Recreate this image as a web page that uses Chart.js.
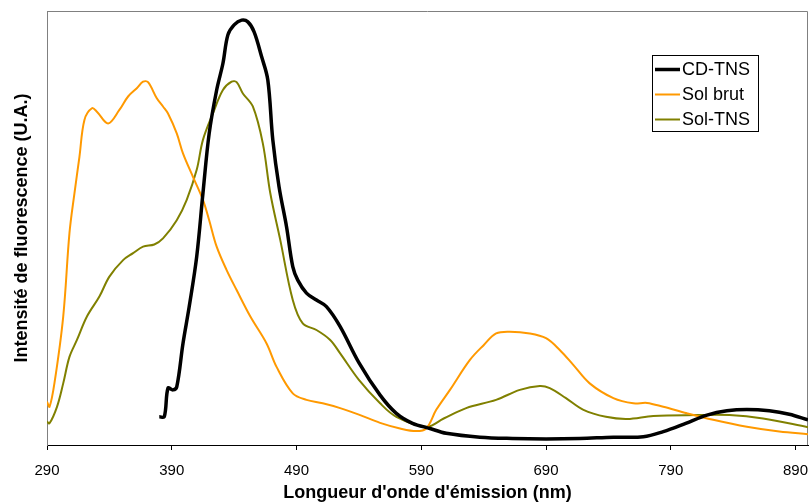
<!DOCTYPE html>
<html>
<head>
<meta charset="utf-8">
<script src="https://cdn.jsdelivr.net/npm/chart.js@4.4.1/dist/chart.umd.min.js"></script>
<style>
  html, body { margin: 0; padding: 0; background: #fff; }
  #wrap { width: 812px; height: 504px; }
</style>
</head>
<body>
<div id="wrap"><canvas id="chart" width="812" height="504"></canvas></div>
<script>
// tick labels on the wavelength axis (nm)
const xTicks = [290, 390, 490, 590, 690, 790, 890];

// CD-TNS
const cdX = [380, 384, 387, 391, 394, 399, 404, 410, 415, 420, 426, 431, 435, 440, 446, 451, 456, 462, 467, 471, 476, 482, 487, 491, 498, 506, 514, 525, 540, 557, 570, 583, 597, 610, 637, 663, 690, 717, 744, 768, 784, 802, 819, 835, 851, 869, 885, 900];
const cdY = [6.5, 6.5, 13.1, 12.7, 13.4, 23.4, 31.9, 43.4, 58, 71.8, 81.8, 87.9, 94.5, 96.8, 97.9, 97.5, 95.2, 89.5, 84.1, 70.3, 59.5, 50.3, 41.1, 38, 35, 33.4, 31.9, 27.3, 19, 11.5, 7.3, 5, 3.8, 2.7, 1.8, 1.5, 1.4, 1.5, 1.8, 1.9, 3.1, 5, 6.9, 7.9, 8.2, 7.9, 7.1, 5.8];

// Sol brut
const brutX = [290, 292, 296, 303, 308, 312, 316, 320, 326, 330, 339, 348, 355, 362, 367, 371, 378, 383, 387, 394, 399, 407, 415, 420, 426, 434, 442, 453, 466, 474, 487, 498, 511, 525, 540, 557, 573, 586, 594, 602, 613, 629, 640, 650, 661, 677, 690, 701, 712, 725, 744, 760, 771, 784, 803, 824, 851, 877, 900];
const brutY = [10, 8.8, 14.3, 29.6, 48.8, 58, 66.4, 74.9, 77.6, 76.8, 74.1, 77.2, 80.3, 82.2, 83.7, 83.6, 79.9, 78, 76.4, 71.8, 67.2, 61.8, 56.5, 51.8, 45.7, 40.3, 35.7, 29.6, 23.4, 18, 11.9, 10.4, 9.6, 8.5, 7, 5.1, 3.8, 3.2, 3.8, 8.1, 12.7, 19.6, 23, 25.7, 26.1, 25.7, 24.6, 21.9, 18.4, 14.2, 10.8, 9.6, 9.7, 8.8, 7.3, 5.8, 4.2, 3.1, 2.5];

// Sol-TNS
const tnsX = [290, 292, 298, 303, 308, 314, 322, 332, 340, 351, 359, 367, 376, 383, 394, 402, 410, 415, 423, 431, 438, 442, 447, 455, 463, 469, 477, 487, 495, 506, 517, 525, 540, 557, 570, 594, 608, 626, 650, 669, 685, 693, 706, 720, 738, 755, 776, 811, 837, 864, 900];
const tnsY = [5.4, 5, 8.8, 14.2, 20.3, 24.2, 29.6, 34.2, 38.8, 42.6, 44.2, 45.7, 46.2, 47.6, 51.8, 56.5, 63.4, 70.3, 76.4, 81.8, 83.7, 83.6, 81, 78, 69.5, 58, 47.2, 33.4, 28, 26.5, 24.2, 21.1, 15, 9.6, 6.5, 4.2, 6.1, 8.5, 10.4, 12.7, 13.6, 13.1, 10.8, 8.1, 6.5, 6, 6.7, 6.9, 6.9, 6.1, 4.1];

const labels = ['CD-TNS', 'Sol brut', 'Sol-TNS'];
const colors = ['#000000', '#FF9900', '#808000'];
const widths = [3.5, 2, 2];

const FONT = '"Liberation Sans", Arial, sans-serif';

const toPts = (xs, ys) => xs.map((x, i) => ({ x: x, y: ys[i] }));

const frame = {
  id: 'frame',
  beforeDatasetsDraw(chart) {
    const { ctx, chartArea: a } = chart;
    ctx.save();
    ctx.strokeStyle = '#808080';
    ctx.lineWidth = 1;
    ctx.beginPath();
    ctx.moveTo(a.left + 0.5, a.bottom);
    ctx.lineTo(a.left + 0.5, a.top + 0.5);
    ctx.lineTo(a.right - 0.5, a.top + 0.5);
    ctx.lineTo(a.right - 0.5, a.bottom);
    ctx.stroke();
    ctx.restore();
  }
};

// boxed legend inside the plot, top right
const boxLegend = {
  id: 'boxLegend',
  afterDatasetsDraw(chart) {
    const { ctx, chartArea: a } = chart;
    const left = a.right - 156, top = a.top + 44, w = 106, h = 76;
    ctx.save();
    ctx.fillStyle = '#fff';
    ctx.fillRect(left, top, w, h);
    ctx.strokeStyle = '#000';
    ctx.lineWidth = 1;
    ctx.strokeRect(left + 0.5, top + 0.5, w, h);
    ctx.font = '18px ' + FONT;
    ctx.textBaseline = 'middle';
    chart.data.datasets.forEach((ds, i) => {
      const y = top + 14.5 + i * 25;
      ctx.strokeStyle = ds.borderColor;
      ctx.lineWidth = ds.borderWidth;
      ctx.beginPath();
      ctx.moveTo(left + 3, y);
      ctx.lineTo(left + 28, y);
      ctx.stroke();
      ctx.fillStyle = '#000';
      ctx.fillText(ds.label, left + 30, y + 1);
    });
    ctx.restore();
  }
};

new Chart(document.getElementById('chart'), {
  type: 'line',
  data: {
    datasets: [
      { label: labels[0], data: toPts(cdX, cdY) },
      { label: labels[1], data: toPts(brutX, brutY) },
      { label: labels[2], data: toPts(tnsX, tnsY) }
    ].map((d, i) => Object.assign(d, {
      borderColor: colors[i],
      borderWidth: widths[i],
      pointRadius: 0,
      fill: false,
      tension: 0.35
    }))
  },
  options: {
    responsive: false,
    animation: false,
    layout: { padding: { top: 11, right: 4, left: 0, bottom: 0 } },
    plugins: { legend: { display: false }, tooltip: { enabled: false } },
    scales: {
      x: {
        type: 'linear',
        min: 290,
        max: 900,
        afterBuildTicks: axis => { axis.ticks = xTicks.map(v => ({ value: v })); },
        afterFit: axis => {
          axis.height = 59;
          axis.paddingLeft = 0;
          axis.paddingRight = 0;
        },
        border: { color: '#000', width: 1 },
        grid: { drawOnChartArea: false, drawTicks: true, tickLength: 5, color: '#000' },
        ticks: {
          color: '#000',
          padding: 12,
          maxRotation: 0,
          autoSkip: false,
          font: { family: FONT, size: 15 }
        },
        title: {
          display: true,
          text: "Longueur d'onde d'émission (nm)",
          color: '#000',
          padding: { top: 0, bottom: 0 },
          font: { family: FONT, size: 18, weight: 'bold' }
        }
      },
      y: {
        min: 0,
        max: 100,
        afterFit: axis => { axis.width = 47; },
        border: { color: '#808080', width: 1 },
        grid: { display: false, drawTicks: false },
        ticks: { display: false },
        title: {
          display: true,
          text: 'Intensité de fluorescence (U.A.)',
          color: '#000',
          padding: { top: 11, bottom: 0 },
          font: { family: FONT, size: 18, weight: 'bold' }
        }
      }
    }
  },
  plugins: [frame, boxLegend]
});
</script>
</body>
</html>
